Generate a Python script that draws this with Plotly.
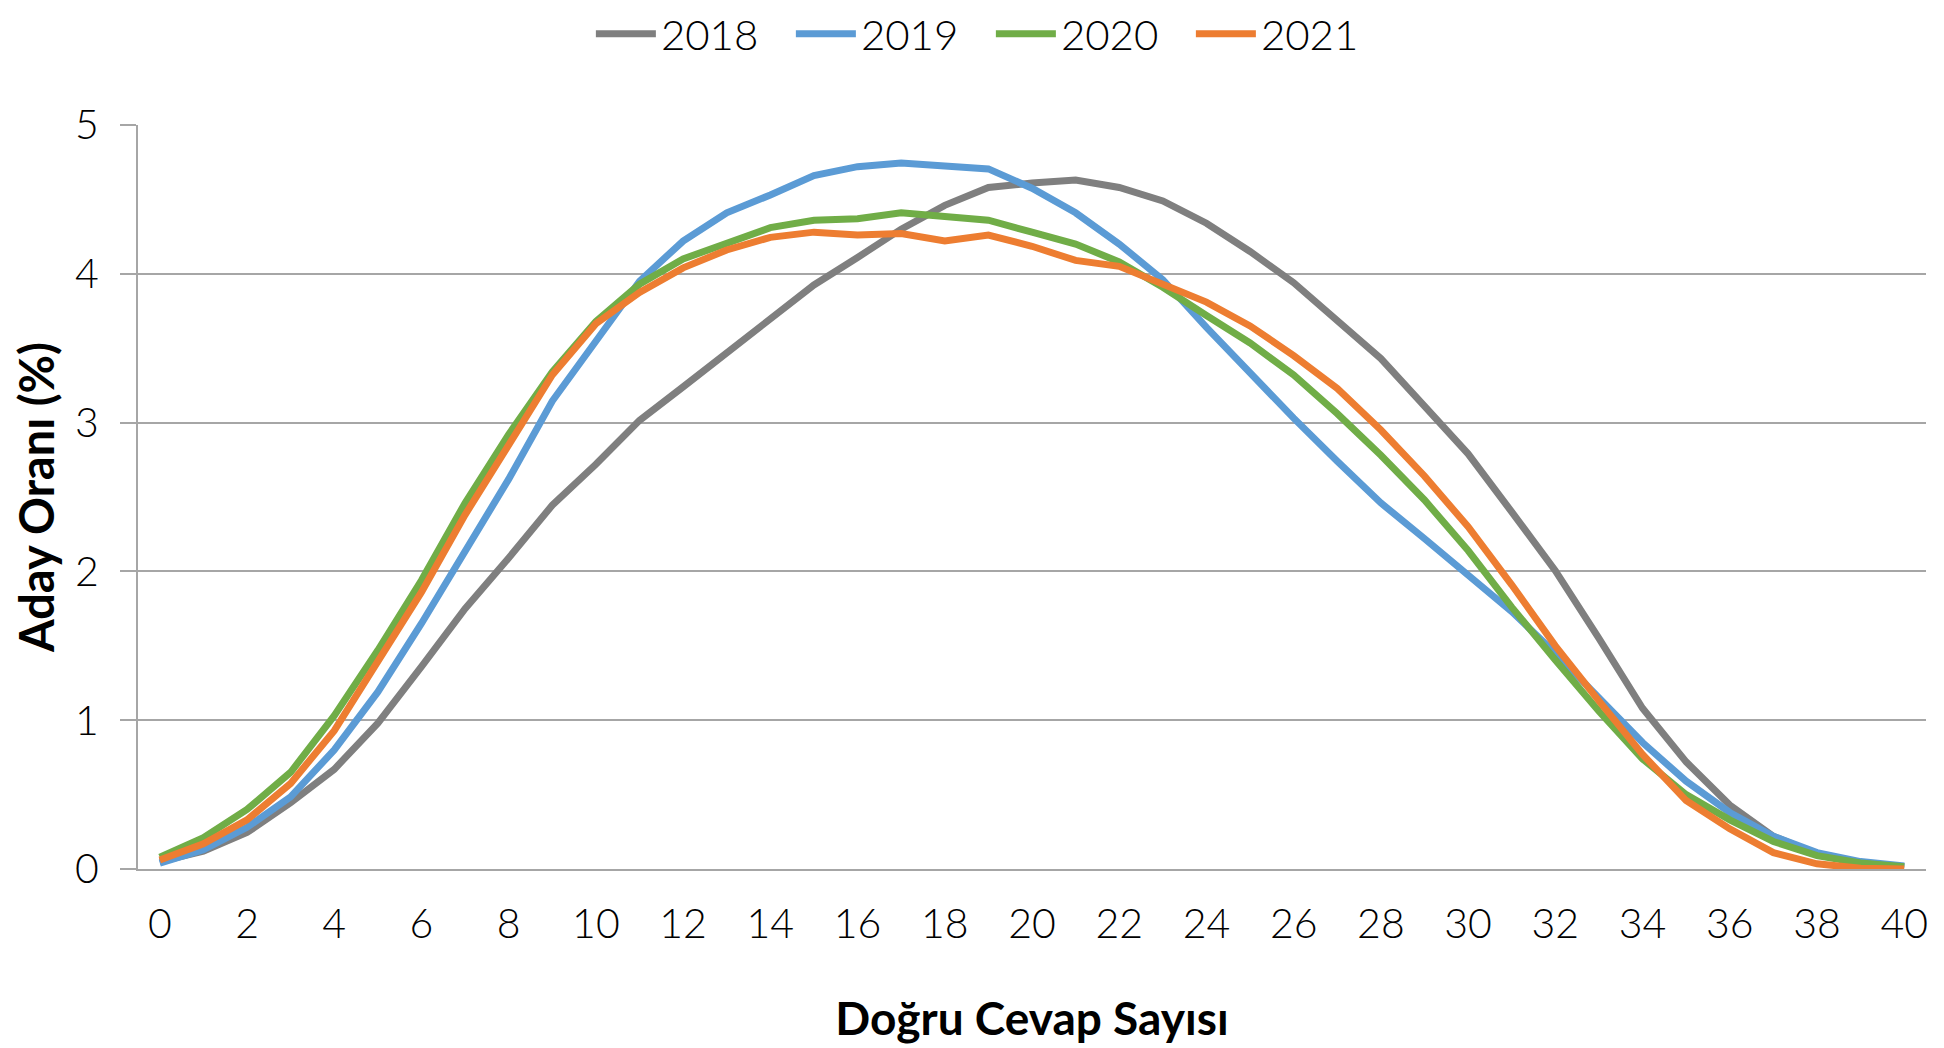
import plotly.graph_objects as go

x_vals = list(range(0, 41))

y2018 = [0.05, 0.12, 0.245, 0.445, 0.67, 0.98, 1.36, 1.75, 2.09, 2.445, 2.72, 3.015, 3.24, 3.47, 3.70, 3.925,
         4.11, 4.30, 4.46, 4.58, 4.61, 4.63, 4.58, 4.49, 4.34, 4.15, 3.94, 3.69, 3.43, 3.11, 2.79, 2.40,
         2.005, 1.55, 1.08, 0.72, 0.43, 0.22, 0.10, 0.04, 0.015]
y2019 = [0.04, 0.13, 0.28, 0.485, 0.80, 1.19, 1.65, 2.14, 2.62, 3.145, 3.55, 3.95, 4.22, 4.41, 4.53, 4.66,
         4.72, 4.745, 4.725, 4.705, 4.575, 4.41, 4.20, 3.96, 3.64, 3.33, 3.03, 2.74, 2.46, 2.22, 1.97, 1.73,
         1.45, 1.145, 0.85, 0.59, 0.38, 0.22, 0.11, 0.05, 0.02]
y2020 = [0.08, 0.21, 0.40, 0.65, 1.03, 1.47, 1.94, 2.46, 2.92, 3.34, 3.68, 3.93, 4.10, 4.21, 4.31, 4.36,
         4.37, 4.41, 4.39, 4.36, 4.28, 4.20, 4.08, 3.91, 3.72, 3.535, 3.32, 3.06, 2.78, 2.48, 2.14, 1.76,
         1.405, 1.06, 0.74, 0.50, 0.33, 0.185, 0.09, 0.04, 0.015]
y2021 = [0.06, 0.17, 0.33, 0.575, 0.93, 1.39, 1.86, 2.38, 2.86, 3.32, 3.665, 3.875, 4.04, 4.16, 4.245, 4.28,
         4.26, 4.27, 4.22, 4.26, 4.185, 4.09, 4.05, 3.93, 3.81, 3.65, 3.45, 3.23, 2.95, 2.64, 2.30, 1.91,
         1.50, 1.13, 0.77, 0.46, 0.27, 0.11, 0.035, 0.005, 0.0]

series_names = ["2018", "2019", "2020", "2021"]
series_colors = ["#7f7f7f", "#5b9bd5", "#70ad47", "#ed7d31"]
series_values = [y2018, y2019, y2020, y2021]

x_ticks = list(range(0, 41, 2))
y_ticks = [0, 1, 2, 3, 4, 5]

FONT = "Lato, sans-serif"

fig = go.Figure()
for name, color, vals in zip(series_names, series_colors, series_values):
    fig.add_trace(go.Scatter(x=x_vals, y=vals, mode="lines", name=name,
                             line=dict(color=color, width=7)))

fig.update_layout(
    width=1936, height=1040,
    paper_bgcolor="white", plot_bgcolor="white",
    margin=dict(l=125, r=18, t=117, b=179),
    font=dict(family=FONT, color="black"),
    legend=dict(orientation="h", x=0.477, xanchor="center", y=0.975, yref="container", yanchor="middle",
                font=dict(size=42, family=FONT, weight=300), itemwidth=60,
                entrywidth=125, entrywidthmode="pixels"),
    xaxis=dict(range=[-0.5, 40.5], tickvals=x_ticks, ticktext=[str(t) for t in x_ticks],
               showgrid=False, showline=True, linecolor="#a6a6a6", linewidth=2,
               ticks="", tickfont=dict(size=41, family=FONT, weight=300), ticklabelstandoff=18,
               title=dict(text="<b>Doğru Cevap Sayısı</b>", font=dict(size=46, family=FONT), standoff=57),
               zeroline=False),
    yaxis=dict(range=[0, 5], tickvals=y_ticks, showgrid=True, gridcolor="#a6a6a6", gridwidth=1.5,
               showline=True, linecolor="#a6a6a6", linewidth=2, ticks="outside", ticklen=16,
               tickcolor="#a6a6a6", tickwidth=1.5,
               tickfont=dict(size=41, family=FONT, weight=300), ticklabelstandoff=13,
               title=dict(text="<b>Aday Oranı (%)</b>", font=dict(size=47, family=FONT), standoff=22),
               zeroline=False),
)

fig.write_html("out.html")
